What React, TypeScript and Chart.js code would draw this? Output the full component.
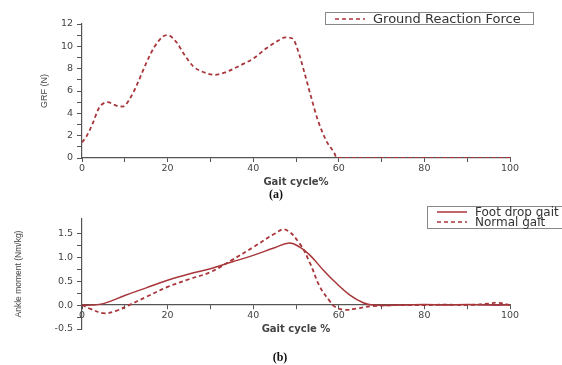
import React, { useEffect, useRef } from 'react';
import { Chart, registerables } from 'chart.js';
Chart.register(...registerables);

// ---- data (a) Ground reaction force ----
const grfX = [0, 1, 2.5, 4, 6, 8, 9.5, 11, 13, 15, 17, 19, 20, 22, 24, 26, 28, 31, 34, 37, 40, 43, 46, 47.5, 49.2, 50.4, 52, 53.5, 55.1, 57, 59, 59.5, 62, 70, 80, 90, 100];
const grfY = [1.4, 1.9, 3.1, 4.5, 5.0, 4.7, 4.6, 5.2, 6.7, 8.5, 10, 10.9, 11.0, 10.4, 9.2, 8.2, 7.75, 7.45, 7.75, 8.3, 8.9, 9.8, 10.55, 10.8, 10.7, 9.7, 7.6, 5.5, 3.4, 1.6, 0.4, 0, 0, 0, 0, 0, 0];

// ---- data (b) Ankle moment ----
const footX = [0, 2, 5, 10, 15, 20, 25, 30, 35, 40, 45, 48.5, 50.9, 53.3, 56.4, 59.5, 62.6, 65.7, 68, 75, 80, 85, 90, 95, 100];
const footY = [0, 0, 0.03, 0.2, 0.36, 0.52, 0.65, 0.76, 0.9, 1.04, 1.2, 1.3, 1.21, 1.04, 0.73, 0.45, 0.21, 0.05, 0, 0, 0.01, 0, 0.01, 0, 0];
const normX = [0, 2, 5, 8, 11, 15, 20, 25, 30, 35, 40, 45, 47.5, 50.9, 53.3, 55.6, 58, 59, 61.4, 64.2, 68, 75, 80, 85, 90, 95, 97, 100];
const normY = [0, -0.08, -0.17, -0.12, 0, 0.17, 0.38, 0.54, 0.69, 0.94, 1.21, 1.49, 1.58, 1.28, 0.87, 0.38, 0.07, -0.03, -0.1, -0.07, -0.02, 0, 0, 0.01, 0, 0.03, 0.05, 0];

const grfLabel = 'Ground Reaction Force';
const footLabel = 'Foot drop gait';
const normLabel = 'Normal gait';
const xTitleA = 'Gait cycle%';
const xTitleB = 'Gait cycle %';
const yTitleA = 'GRF (N)';
const yTitleB = 'Ankle moment (Nm/kg)';

const RED = '#a8363b';
const AXIS = '#555555';
const TEXT = '#444444';
const SANS = "'Liberation Sans', Arial, sans-serif";
const WIDE = "'DejaVu Sans', Verdana, sans-serif";

const toPts = (xs: number[], ys: number[]) => xs.map((x, i) => ({ x, y: ys[i] }));

function boxLegend(id: string, box: { x: number; y: number; w: number; h: number }, rowH: number, fontSize: number) {
  return {
    id,
    afterDraw(chart: any) {
      const ctx = chart.ctx;
      ctx.save();
      ctx.strokeStyle = '#888';
      ctx.lineWidth = 1;
      ctx.strokeRect(box.x + 0.5, box.y + 0.5, box.w, box.h);
      chart.data.datasets.forEach((ds: any, i: number) => {
        const cy = box.y + rowH / 2 + 1 + i * rowH;
        ctx.strokeStyle = ds.borderColor;
        ctx.lineWidth = 1.5;
        ctx.setLineDash(ds.borderDash || []);
        ctx.beginPath();
        ctx.moveTo(box.x + 10, cy);
        ctx.lineTo(box.x + 40, cy);
        ctx.stroke();
        ctx.setLineDash([]);
        ctx.fillStyle = '#333';
        ctx.font = `${fontSize}px ${WIDE}`;
        ctx.textBaseline = 'middle';
        ctx.textAlign = 'left';
        ctx.fillText(ds.label, box.x + 48, cy + 0.5);
      });
      ctx.restore();
    },
  };
}

function caption(id: string, text: string, x: number, y: number) {
  return {
    id,
    afterDraw(chart: any) {
      const ctx = chart.ctx;
      ctx.save();
      ctx.fillStyle = '#111';
      ctx.font = "bold 12px 'Liberation Serif', 'Times New Roman', serif";
      ctx.textAlign = 'center';
      ctx.textBaseline = 'middle';
      ctx.fillText(text, x, y);
      ctx.restore();
    },
  };
}

const gridOpts = { display: true, drawOnChartArea: false, drawTicks: true, tickLength: 4, color: AXIS, lineWidth: 1 };
const borderOpts = { display: true, color: AXIS, width: 1.2 };

function xScale(title: string, position: any) {
  return {
    type: 'linear',
    position,
    min: 0,
    max: 100,
    grid: gridOpts,
    border: borderOpts,
    afterFit: (s: any) => { s.height = 30; },
    ticks: {
      stepSize: 10,
      autoSkip: false,
      maxRotation: 0,
      padding: 1,
      color: TEXT,
      font: { family: WIDE, size: 9.5 },
      callback: (v: number) => (v % 20 === 0 ? String(v) : ''),
    },
    title: { display: true, text: title, color: '#444', font: { family: WIDE, size: 10, weight: 'bold' }, padding: { top: 0, bottom: 0 } },
  };
}

function App() {
  const refA = useRef<HTMLCanvasElement>(null);
  const refB = useRef<HTMLCanvasElement>(null);

  useEffect(() => {
    const chartA = new Chart(refA.current!, {
      type: 'line',
      data: {
        datasets: [
          {
            label: grfLabel,
            data: toPts(grfX, grfY),
            borderColor: RED,
            borderWidth: 1.8,
            borderDash: [4, 3],
            pointRadius: 0,
            cubicInterpolationMode: 'monotone',
            fill: false,
          },
        ],
      },
      options: {
        responsive: false,
        animation: false,
        devicePixelRatio: 1,
        layout: { padding: { left: 0, right: 52, top: 24, bottom: 15 } },
        plugins: { legend: { display: false }, tooltip: { enabled: false } },
        scales: {
          x: xScale(xTitleA, 'bottom') as any,
          y: {
            type: 'linear',
            min: 0,
            max: 12,
            grid: { ...gridOpts, tickLength: 5 },
            border: borderOpts,
            afterFit: (s: any) => { s.width = 82; },
            ticks: {
              stepSize: 1,
              autoSkip: false,
              padding: 4,
              color: TEXT,
              font: { family: WIDE, size: 9.5 },
              callback: (v: number) => (v % 2 === 0 ? String(v) : ''),
            },
            title: { display: true, text: yTitleA, color: TEXT, font: { family: SANS, size: 9 }, padding: { top: 39, bottom: 0 } },
          },
        },
      },
      plugins: [boxLegend('legA', { x: 325, y: 12, w: 208, h: 12 }, 12, 13), caption('capA', '(a)', 276, 195)],
    } as any);

    const chartB = new Chart(refB.current!, {
      type: 'line',
      data: {
        datasets: [
          {
            label: footLabel,
            data: toPts(footX, footY),
            borderColor: RED,
            borderWidth: 1.5,
            pointRadius: 0,
            tension: 0.4,
            fill: false,
          },
          {
            label: normLabel,
            data: toPts(normX, normY),
            borderColor: RED,
            borderWidth: 1.8,
            borderDash: [4, 3],
            pointRadius: 0,
            tension: 0.4,
            fill: false,
          },
        ],
      },
      options: {
        responsive: false,
        animation: false,
        devicePixelRatio: 1,
        layout: { padding: { left: 0, right: 52, top: 16, bottom: 36 } },
        plugins: { legend: { display: false }, tooltip: { enabled: false } },
        scales: {
          x: xScale(xTitleB, { y: 0 }) as any,
          y: {
            type: 'linear',
            min: -0.5,
            max: 1.8,
            grid: { ...gridOpts, tickLength: 5 },
            border: borderOpts,
            afterFit: (s: any) => { s.width = 82; },
            afterBuildTicks: (s: any) => {
              s.ticks = s.ticks.filter((t: any) => Math.abs(Math.round(t.value * 4) - t.value * 4) < 1e-6);
            },
            ticks: {
              stepSize: 0.25,
              autoSkip: false,
              padding: 4,
              color: TEXT,
              font: { family: WIDE, size: 9.5 },
              callback: (v: number) => (Math.abs(Math.round(v * 2) - v * 2) < 1e-6 ? v.toFixed(1) : ''),
            },
            title: { display: true, text: yTitleB, color: TEXT, font: { family: SANS, size: 8.5 }, padding: { top: 14, bottom: 0 } },
          },
        },
      },
      plugins: [boxLegend('legB', { x: 427, y: 3, w: 150, h: 22 }, 10, 12), caption('capB', '(b)', 280, 155)],
    } as any);

    return () => {
      chartA.destroy();
      chartB.destroy();
    };
  }, []);

  return (
    <div style={{ position: 'absolute', left: 0, top: 0, width: 562, height: 365, background: '#fff', overflow: 'hidden' }}>
      <canvas ref={refA} width={562} height={203} style={{ position: 'absolute', left: 0, top: 0 }} />
      <canvas ref={refB} width={562} height={162} style={{ position: 'absolute', left: 0, top: 203 }} />
    </div>
  );
}

export default App;
